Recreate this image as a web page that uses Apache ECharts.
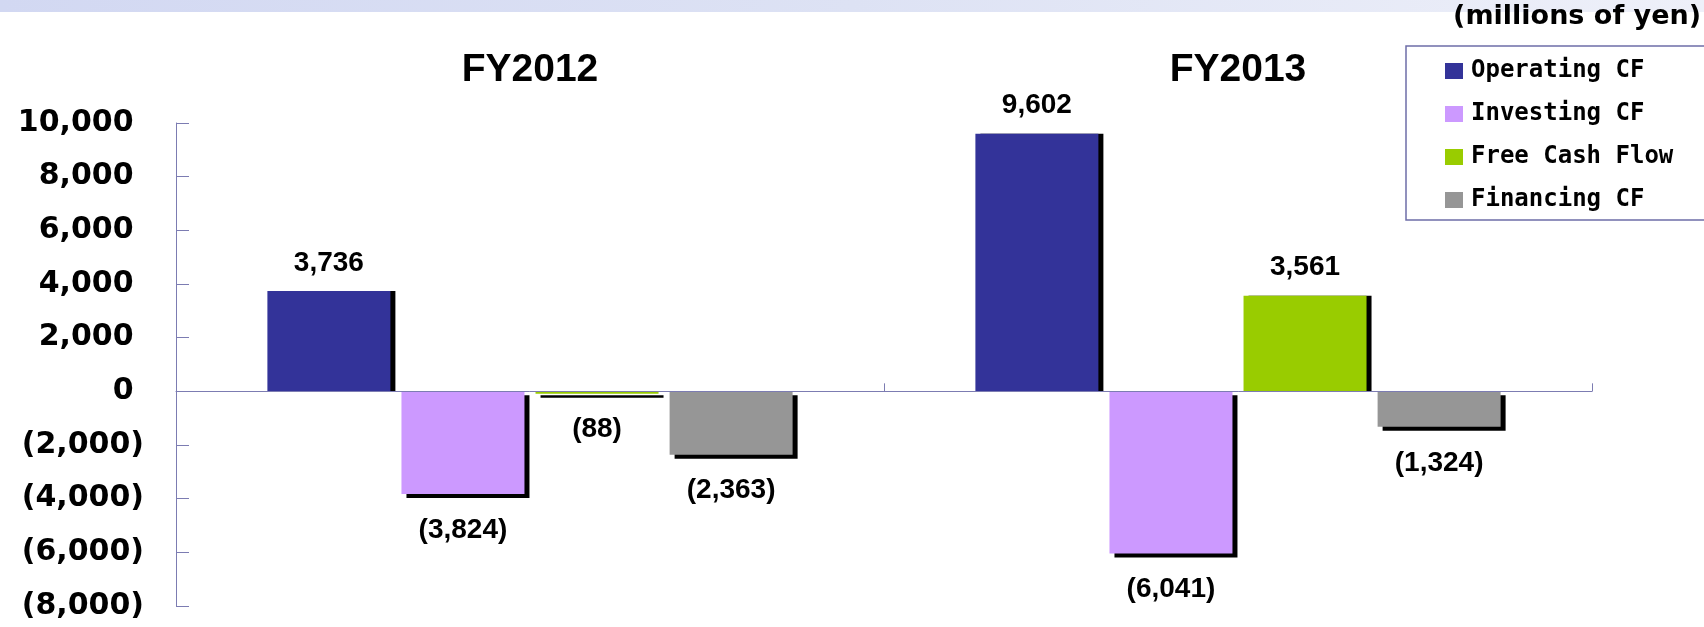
<!DOCTYPE html>
<html>
<head>
<meta charset="utf-8">
<title>Cash Flow</title>
<script src="https://cdn.jsdelivr.net/npm/echarts@6/dist/echarts.min.js"></script>
<style>
    html, body { margin: 0; padding: 0; background: #fff; }
    #cfChart { width: 1704px; height: 627px; }
</style>
</head>
<body>
<div id="cfChart"></div>
<script>
    var categories = ['FY2012', 'FY2013'];
    var seriesNames = ['Operating CF', 'Investing CF', 'Free Cash Flow', 'Financing CF'];
    var operatingCF = [3736, 9602];
    var investingCF = [-3824, -6041];
    var freeCashFlow = [-88, 3561];
    var financingCF = [-2363, -1324];
    var yMin = -8000, yMax = 10000, yStep = 2000;
    var unitText = '(millions of yen)';

    var colors = ['#333399', '#cc99ff', '#99cc00', '#969696'];
    var axisColor = '#7c7cb2';

    function fmt(v) {
        var s = Math.abs(v).toLocaleString('en-US');
        return v < 0 ? '(' + s + ')' : s;
    }

    var cfChart = echarts.init(document.getElementById('cfChart'));

    // negative bars: shadow right+bottom, label a bit further away
    function toItems(data) {
        return data.map(function (v) {
            if (v < 0) {
                return { value: v, label: { distance: 22 } };
            }
            return { value: v, itemStyle: { shadowOffsetY: 0 } };
        });
    }

    function barSeries(name, data, color) {
        return {
            name: name,
            type: 'bar',
            xAxisIndex: 0,
            barWidth: 123,
            barGap: '9%',
            itemStyle: {
                color: color,
                shadowColor: '#000',
                shadowBlur: 0,
                shadowOffsetX: 5,
                shadowOffsetY: 4
            },
            label: {
                show: true,
                position: 'outside',
                distance: 14,
                color: '#000',
                fontFamily: 'Liberation Sans',
                fontWeight: 'bold',
                fontSize: 28,
                formatter: function (p) { return fmt(p.value); }
            },
            data: toItems(data)
        };
    }

    var option = {
        animation: false,
        backgroundColor: '#fff',
        title: {
            text: unitText,
            right: 3,
            top: 3,
            padding: 0,
            textStyle: {
                fontFamily: 'DejaVu Sans',
                fontWeight: 'bold',
                fontSize: 27,
                color: '#000'
            }
        },
        graphic: [{
            type: 'rect',
            z: -1,
            shape: { x: 0, y: 0, width: 1704, height: 12 },
            style: {
                fill: {
                    type: 'linear', x: 0, y: 0, x2: 1, y2: 0,
                    colorStops: [
                        { offset: 0, color: '#d2d8f2' },
                        { offset: 0.5, color: '#dde2f4' },
                        { offset: 1, color: '#eef0f9' }
                    ]
                }
            }
        }],
        legend: {
            data: seriesNames,
            orient: 'vertical',
            left: 1406,
            top: 46,
            icon: 'rect',
            itemWidth: 18,
            itemHeight: 16,
            itemGap: 19,
            borderColor: '#6e6ea8',
            borderWidth: 1.5,
            padding: [13, 60, 8, 39],
            textStyle: {
                fontFamily: 'DejaVu Sans Mono',
                fontWeight: 'bold',
                fontSize: 24,
                color: '#000',
                padding: [0, 0, 0, 3]
            }
        },
        color: colors,
        grid: {
            left: 176,
            right: 112,
            top: 123,
            bottom: 21
        },
        xAxis: [{
            type: 'category',
            data: categories,
            z: 5,
            axisLine: { onZero: true, lineStyle: { color: axisColor, width: 1 } },
            axisTick: { show: true, inside: true, length: 8, lineStyle: { color: axisColor } },
            axisLabel: { show: false }
        }, {
            type: 'category',
            data: categories,
            position: 'top',
            axisLine: { show: false },
            axisTick: { show: false },
            axisLabel: {
                margin: 33,
                color: '#000',
                fontFamily: 'Liberation Sans',
                fontWeight: 'bold',
                fontSize: 39
            }
        }],
        yAxis: {
            type: 'value',
            min: yMin,
            max: yMax,
            interval: yStep,
            splitLine: { show: false },
            axisLine: { show: true, lineStyle: { color: axisColor, width: 1 } },
            axisTick: { show: true, inside: true, length: 13, lineStyle: { color: axisColor } },
            axisLabel: {
                margin: 32,
                color: '#000',
                fontFamily: 'DejaVu Sans',
                fontWeight: 'bold',
                fontSize: 30,
                formatter: function (v) { return v < 0 ? fmt(v) : fmt(v) + ' '; }
            }
        },
        series: [
            barSeries(seriesNames[0], operatingCF, colors[0]),
            barSeries(seriesNames[1], investingCF, colors[1]),
            barSeries(seriesNames[2], freeCashFlow, colors[2]),
            barSeries(seriesNames[3], financingCF, colors[3])
        ]
    };

    cfChart.setOption(option);
</script>
</body>
</html>
